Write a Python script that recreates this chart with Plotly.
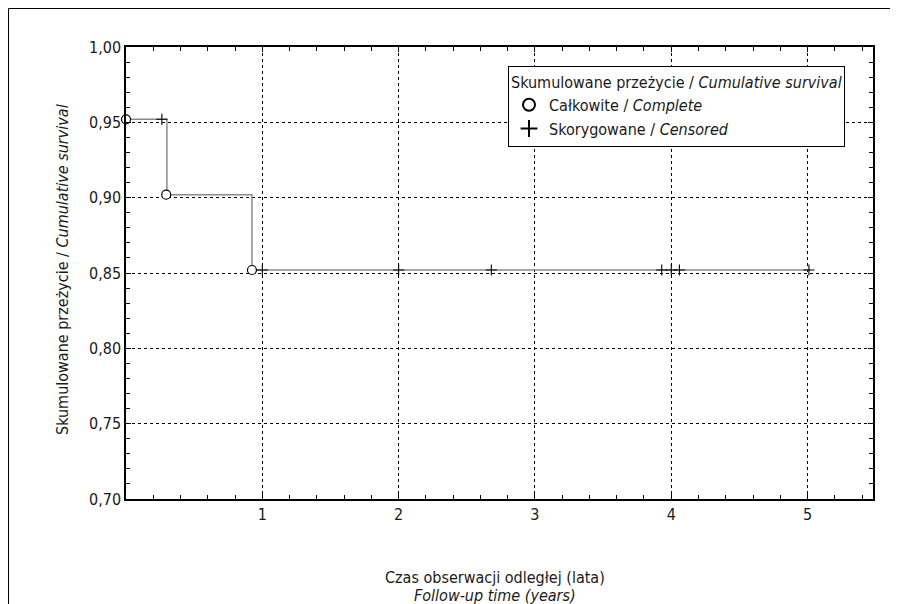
import plotly.graph_objects as go

# Kaplan-Meier step curve
step_t = [0.0, 0.30, 0.924, 5.02]
step_s = [0.952, 0.902, 0.852, 0.852]

# complete (event) observations
complete_t = [0.0, 0.295, 0.924]
complete_s = [0.952, 0.902, 0.852]

# censored observations
censored_t = [0.263, 1.0, 2.0, 2.68, 3.93, 4.0, 4.06, 5.01]
censored_s = [0.952, 0.852, 0.852, 0.852, 0.852, 0.852, 0.852, 0.852]

x_tickvals = [1, 2, 3, 4, 5]
y_tickvals = [0.70, 0.75, 0.80, 0.85, 0.90, 0.95, 1.00]

x_title_1 = "Czas obserwacji odległej (lata)"
x_title_2 = "<i>Follow-up time (years)</i>"
y_title = "Skumulowane przeżycie / <i>Cumulative survival</i>"
legend_title = "Skumulowane przeżycie / <i>Cumulative survival</i>"

FONT = "DejaVu Sans Condensed, Liberation Sans Narrow, sans-serif"

fig = go.Figure()
fig.add_trace(go.Scatter(
    x=step_t, y=step_s, mode="lines", line=dict(shape="hv", color="#8a8a8a", width=1.5),
    showlegend=False, hoverinfo="skip", cliponaxis=False))
fig.add_trace(go.Scatter(
    x=complete_t, y=complete_s, mode="markers", name="Całkowite / <i>Complete</i>",
    marker=dict(symbol="circle", size=9, color="white", line=dict(color="black", width=1.2)),
    cliponaxis=False))
fig.add_trace(go.Scatter(
    x=censored_t, y=censored_s, mode="markers", name="Skorygowane / <i>Censored</i>",
    marker=dict(symbol="cross-thin", size=8, color="black", line=dict(color="black", width=1.1)),
    cliponaxis=False))

# page body has an 8px offset; figure coordinates = window coordinates - 8
OFF = 8
W, H = 890, 596
L, R, T, B = 126 - OFF, 25, 47 - OFF, 105
pw, ph = W - L - R, H - T - B

def px(xw):
    return (xw - OFF - L) / pw

def py(yw):
    return (H - B - (yw - OFF)) / ph

fig.update_layout(
    width=W, height=H,
    margin=dict(l=L, r=R, t=T, b=B),
    paper_bgcolor="white", plot_bgcolor="white",
    separators=",.",
    font=dict(family=FONT, size=16, color="#1a1a1a"),
    legend=dict(
        x=px(508), y=py(66), xanchor="left", yanchor="top",
        bgcolor="white", bordercolor="black", borderwidth=1,
        title=dict(text=legend_title, side="top", font=dict(size=16)),
        font=dict(size=16), tracegroupgap=0, itemsizing="constant",
    ),
    xaxis=dict(
        range=[0, 5.48], tickvals=x_tickvals, ticktext=[str(v) for v in x_tickvals],
        showgrid=True, gridcolor="black", gridwidth=1, griddash="3px,3px",
        showline=True, linecolor="black", linewidth=1.5, mirror="ticks",
        ticks="inside", ticklen=5, tickcolor="black",
        minor=dict(ticks="inside", dtick=0.2, tick0=0, ticklen=4, tickcolor="black", showgrid=False),
        zeroline=False, automargin=False,
        tickfont=dict(size=16),
    ),
    yaxis=dict(
        range=[0.70, 1.00], tickvals=y_tickvals, tickformat=".2f",
        showgrid=True, gridcolor="black", gridwidth=1, griddash="3px,3px",
        showline=True, linecolor="black", linewidth=1.5, mirror="ticks",
        ticks="inside", ticklen=5, tickcolor="black",
        minor=dict(ticks="inside", dtick=0.01, tick0=0.70, ticklen=4, tickcolor="black", showgrid=False),
        zeroline=False, automargin=False,
        tickfont=dict(size=16),
    ),
    annotations=[
        dict(text=x_title_1, xref="paper", yref="paper", x=px(495), y=py(577),
             xanchor="center", yanchor="middle", showarrow=False, font=dict(size=16)),
        dict(text=x_title_2, xref="paper", yref="paper", x=px(495), y=py(595),
             xanchor="center", yanchor="middle", showarrow=False, font=dict(size=16)),
        dict(text=y_title, xref="paper", yref="paper", x=px(62), y=py(270),
             xanchor="center", yanchor="middle", textangle=-90, showarrow=False, font=dict(size=16)),
    ],
    shapes=[
        dict(type="line", xref="paper", yref="paper", x0=px(8.5), x1=px(W + OFF), y0=py(8.5), y1=py(8.5),
             line=dict(color="black", width=1)),
        dict(type="line", xref="paper", yref="paper", x0=px(8.5), x1=px(8.5), y0=py(8.5), y1=py(H + OFF),
             line=dict(color="black", width=1)),
    ],
)

fig.write_html("out.html")
